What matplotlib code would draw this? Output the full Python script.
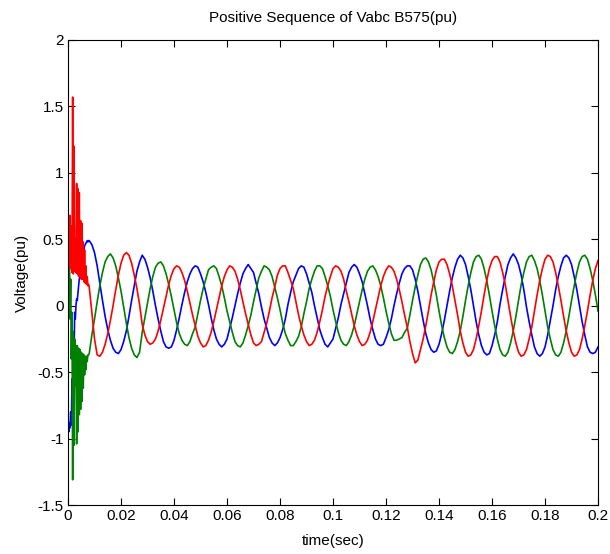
import numpy as np
import matplotlib
matplotlib.use("Agg")
import matplotlib.pyplot as plt

# time base: fast samples during the switching transient, then 1 ms samples
dt_fast = 0.00025
dt_slow = 0.001
t_slow_start = 0.008

# ---- transient 0 .. 7.75 ms (0.25 ms steps) ----
va_fast = [-0.85, -0.95, -0.88, -0.92, -0.80, -0.90, -0.55, -0.75, -0.20, -0.45,
           -0.05, -0.10, 0.00, 0.05, 0.04, 0.10, 0.15, 0.20, 0.22, 0.27,
           0.30, 0.34, 0.36, 0.40, 0.42, 0.45, 0.46, 0.47, 0.48, 0.49,
           0.48, 0.49]
vb_fast = [0.69, 0.10, 0.55, -0.10, 0.20, -0.40, -0.05, -1.31, -0.20, -1.05,
           -0.25, -0.60, -0.30, -1.04, -0.30, -0.95, -0.32, -0.82, -0.33, -0.78,
           -0.35, -0.72, -0.36, -0.62, -0.37, -0.52, -0.38, -0.48, -0.38, -0.42,
           -0.37, -0.37]
vc_fast = [0.35, 0.65, 0.30, 0.68, 0.28, 0.60, 0.25, 1.57, 0.24, 1.20,
           0.26, 0.50, 0.25, 0.92, 0.24, 0.88, 0.22, 0.85, 0.22, 0.64,
           0.20, 0.62, 0.20, 0.48, 0.18, 0.42, 0.17, 0.30, 0.16, 0.22,
           0.15, 0.16]

# ---- 8 ms .. 200 ms (1 ms steps), one row per 20 ms cycle ----
va_slow = [
    0.49, 0.46, 0.40, 0.30, 0.17, 0.04, -0.08, -0.18, -0.26, -0.32, -0.35, -0.36, -0.33, -0.27, -0.19, -0.08, 0.04, 0.15, 0.26, 0.33,
    0.38, 0.35, 0.29, 0.21, 0.11, 0.00, -0.10, -0.19, -0.27, -0.31, -0.32, -0.31, -0.26, -0.18, -0.09, 0.01, 0.10, 0.18, 0.24, 0.28,
    0.30, 0.29, 0.24, 0.18, 0.10, 0.01, -0.09, -0.18, -0.25, -0.29, -0.31, -0.29, -0.25, -0.17, -0.09, 0.00, 0.09, 0.17, 0.24, 0.28,
    0.31, 0.28, 0.25, 0.17, 0.09, -0.01, -0.10, -0.17, -0.24, -0.28, -0.30, -0.28, -0.24, -0.18, -0.10, 0.01, 0.10, 0.18, 0.23, 0.28,
    0.30, 0.29, 0.24, 0.17, 0.10, 0.00, -0.09, -0.18, -0.24, -0.29, -0.31, -0.28, -0.25, -0.17, -0.09, 0.01, 0.09, 0.17, 0.25, 0.29,
    0.31, 0.29, 0.24, 0.18, 0.09, 0.00, -0.10, -0.18, -0.25, -0.29, -0.30, -0.29, -0.24, -0.18, -0.10, 0.00, 0.09, 0.17, 0.24, 0.28,
    0.30, 0.30, 0.27, 0.20, 0.11, 0.00, -0.11, -0.21, -0.28, -0.33, -0.35, -0.34, -0.29, -0.21, -0.11, 0.00, 0.11, 0.21, 0.29, 0.35,
    0.38, 0.36, 0.31, 0.22, 0.12, 0.00, -0.12, -0.22, -0.30, -0.35, -0.37, -0.36, -0.30, -0.22, -0.12, 0.01, 0.12, 0.22, 0.31, 0.36,
    0.39, 0.36, 0.31, 0.23, 0.12, -0.01, -0.12, -0.22, -0.31, -0.36, -0.38, -0.36, -0.31, -0.22, -0.11, 0.00, 0.12, 0.22, 0.30, 0.36,
    0.38, 0.36, 0.31, 0.22, 0.12, 0.00, -0.12, -0.22, -0.31, -0.35, -0.36, -0.35, -0.31,
]
vb_slow = [
    -0.36, -0.22, -0.10, 0.03, 0.15, 0.25, 0.33, 0.37, 0.39, 0.36, 0.30, 0.21, 0.11, -0.01, -0.13, -0.24, -0.32, -0.37, -0.39, -0.35,
    -0.20, -0.09, 0.02, 0.13, 0.22, 0.29, 0.32, 0.33, 0.30, 0.24, 0.16, 0.07, -0.03, -0.13, -0.21, -0.26, -0.29, -0.30, -0.27, -0.21,
    -0.16, -0.06, 0.04, 0.13, 0.20, 0.27, 0.29, 0.30, 0.28, 0.22, 0.15, 0.06, -0.04, -0.12, -0.20, -0.27, -0.30, -0.31, -0.28, -0.22,
    -0.15, -0.07, 0.03, 0.12, 0.21, 0.26, 0.30, 0.29, 0.27, 0.22, 0.14, 0.06, -0.03, -0.13, -0.21, -0.26, -0.30, -0.30, -0.27, -0.23,
    -0.16, -0.06, 0.03, 0.13, 0.20, 0.26, 0.30, 0.30, 0.28, 0.22, 0.15, 0.07, -0.03, -0.12, -0.20, -0.26, -0.29, -0.30, -0.27, -0.22,
    -0.15, -0.06, 0.03, 0.12, 0.20, 0.26, 0.29, 0.30, 0.27, 0.22, 0.15, 0.06, -0.04, -0.13, -0.21, -0.26, -0.26, -0.25, -0.24, -0.20,
    -0.17, -0.07, 0.04, 0.14, 0.23, 0.31, 0.35, 0.36, 0.33, 0.27, 0.18, 0.08, -0.04, -0.15, -0.24, -0.31, -0.35, -0.36, -0.33, -0.27,
    -0.19, -0.08, 0.04, 0.15, 0.25, 0.33, 0.37, 0.38, 0.35, 0.28, 0.19, 0.08, -0.04, -0.15, -0.25, -0.33, -0.37, -0.38, -0.35, -0.28,
    -0.19, -0.08, 0.04, 0.16, 0.25, 0.33, 0.37, 0.38, 0.34, 0.28, 0.19, 0.08, -0.04, -0.16, -0.25, -0.33, -0.37, -0.38, -0.35, -0.28,
    -0.19, -0.08, 0.04, 0.15, 0.25, 0.33, 0.37, 0.38, 0.35, 0.28, 0.19, 0.08, -0.04,
]
vc_slow = [
    0.14, -0.05, -0.25, -0.37, -0.38, -0.35, -0.29, -0.21, -0.11, 0.00, 0.12, 0.23, 0.32, 0.38, 0.40, 0.38, 0.32, 0.23, 0.13, 0.01,
    -0.14, -0.22, -0.27, -0.29, -0.28, -0.25, -0.19, -0.11, -0.02, 0.07, 0.16, 0.23, 0.28, 0.30, 0.29, 0.25, 0.19, 0.11, 0.02, -0.07,
    -0.15, -0.23, -0.28, -0.31, -0.30, -0.26, -0.20, -0.12, -0.03, 0.06, 0.15, 0.22, 0.27, 0.30, 0.29, 0.26, 0.20, 0.12, 0.03, -0.06,
    -0.14, -0.22, -0.28, -0.30, -0.29, -0.27, -0.20, -0.13, -0.04, 0.06, 0.14, 0.23, 0.28, 0.30, 0.30, 0.25, 0.19, 0.13, 0.03, -0.07,
    -0.15, -0.22, -0.27, -0.30, -0.29, -0.26, -0.20, -0.12, -0.03, 0.07, 0.15, 0.22, 0.28, 0.30, 0.29, 0.26, 0.20, 0.11, 0.03, -0.06,
    -0.15, -0.22, -0.27, -0.30, -0.29, -0.26, -0.20, -0.12, -0.03, 0.06, 0.15, 0.22, 0.27, 0.30, 0.29, 0.26, 0.20, 0.12, 0.03, -0.07,
    -0.16, -0.27, -0.36, -0.43, -0.41, -0.33, -0.25, -0.15, -0.04, 0.08, 0.18, 0.27, 0.33, 0.35, 0.35, 0.31, 0.24, 0.15, 0.04, -0.07,
    -0.19, -0.28, -0.35, -0.38, -0.37, -0.33, -0.25, -0.15, -0.04, 0.08, 0.19, 0.28, 0.34, 0.37, 0.37, 0.33, 0.25, 0.16, 0.04, -0.08,
    -0.19, -0.28, -0.35, -0.38, -0.37, -0.33, -0.25, -0.16, -0.04, 0.08, 0.19, 0.28, 0.35, 0.38, 0.37, 0.33, 0.25, 0.15, 0.04, -0.08,
    -0.19, -0.28, -0.35, -0.38, -0.37, -0.33, -0.25, -0.15, -0.04, 0.08, 0.19, 0.28, 0.34,
]

t = np.concatenate([np.arange(len(va_fast)) * dt_fast,
                    t_slow_start + np.arange(len(va_slow)) * dt_slow])
va = np.array(va_fast + va_slow)
vb = np.array(vb_fast + vb_slow)
vc = np.array(vc_fast + vc_slow)

plt.rcParams['font.family'] = ['Liberation Sans Narrow', 'Liberation Sans', 'DejaVu Sans']

fig = plt.figure(figsize=(6.10, 5.54), dpi=100)
ax = fig.add_axes([0.1115, 0.0884, 0.8689, 0.8394])

ax.plot(t, va, color=(0, 0, 1), lw=1.2)
ax.plot(t, vb, color=(0, 0.5, 0), lw=1.2)
ax.plot(t, vc, color=(1, 0, 0), lw=1.2)

ax.set_xlim(0, 0.2)
ax.set_ylim(-1.5, 2)
ax.set_xticks(np.arange(0, 0.2001, 0.02))
ax.set_xticklabels(['0', '0.02', '0.04', '0.06', '0.08', '0.1', '0.12', '0.14', '0.16', '0.18', '0.2'])
ax.set_yticks([-1.5, -1, -0.5, 0, 0.5, 1, 1.5, 2])
ax.set_yticklabels(['-1.5', '-1', '-0.5', '0', '0.5', '1', '1.5', '2'])
ax.tick_params(direction='in', top=True, right=True, length=5, width=0.8,
               labelsize=11, pad=3)
for s in ax.spines.values():
    s.set_linewidth(0.8)

ax.set_title('Positive Sequence of Vabc B575(pu)', fontsize=11, pad=13)
ax.set_xlabel('time(sec)', fontsize=11, labelpad=8)
ax.set_ylabel('Voltage(pu)', fontsize=11, labelpad=6)

fig.savefig('out.png', dpi=100)
